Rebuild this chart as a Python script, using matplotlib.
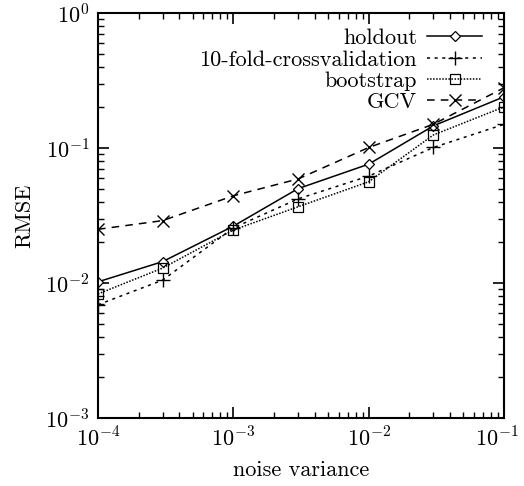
import numpy as np
import matplotlib
matplotlib.use("Agg")
import matplotlib.pyplot as plt
import matplotlib.transforms as mtransforms

plt.rcParams['font.family'] = 'serif'
plt.rcParams['font.serif'] = ['cmr10', 'DejaVu Serif']
plt.rcParams['mathtext.fontset'] = 'cm'
plt.rcParams['axes.formatter.use_mathtext'] = True
plt.rcParams['axes.unicode_minus'] = False

# noise variance levels
noise = [1e-4, 3e-4, 1e-3, 3e-3, 1e-2, 3e-2, 1e-1]

# RMSE per method
holdout = [0.0102, 0.0144, 0.0264, 0.050, 0.076, 0.146, 0.24]
crossval = [0.0069, 0.0105, 0.0256, 0.042, 0.062, 0.101, 0.15]
bootstrap = [0.0083, 0.0129, 0.0247, 0.0367, 0.0563, 0.125, 0.202]
gcv = [0.025, 0.029, 0.0443, 0.059, 0.101, 0.150, 0.28]

xticks = [1e-4, 1e-3, 1e-2, 1e-1]
xtick_labels = [r'$10^{-4}$', r'$10^{-3}$', r'$10^{-2}$', r'$10^{-1}$']

fig = plt.figure(figsize=(5.24, 4.86), dpi=100)
ax = fig.add_axes([0.187, 0.140, 0.775, 0.833])

ax.plot(noise, holdout, color='black', linestyle='-', linewidth=1.1,
        marker='D', markersize=5.5, markerfacecolor='white', markeredgewidth=0.9,
        label='holdout')
ax.plot(noise, crossval, color='black', linestyle=(0, (2, 3)), linewidth=1.1,
        marker='+', markersize=10, markeredgewidth=1.0,
        label='10-fold-crossvalidation')
ax.plot(noise, bootstrap, color='black', linestyle=(0, (1, 1)), linewidth=1.1,
        marker='s', markersize=6.5, markerfacecolor='none', markeredgewidth=0.9,
        label='bootstrap')
ax.plot(noise, gcv, color='black', linestyle=(0, (5, 4)), linewidth=1.1,
        marker='x', markersize=8, markeredgewidth=1.0,
        label='GCV')

ax.set_xscale('log')
ax.set_yscale('log')
ax.set_xlim(1e-4, 1e-1)
ax.set_ylim(1e-3, 1e0)
ax.set_xticks(xticks, xtick_labels)

ax.set_xlabel('noise variance', fontsize=16, labelpad=7)
ax.set_ylabel('RMSE', fontsize=16, labelpad=8)

ax.tick_params(which='both', direction='in', top=True, right=True, labelsize=16)
ax.tick_params(which='major', length=8, width=1.2, pad=6)
ax.tick_params(which='minor', length=4, width=1.0)
for s in ax.spines.values():
    s.set_linewidth(1.5)

# keep the last x tick label inside the figure
last = ax.get_xticklabels()[-1]
last.set_transform(last.get_transform() +
                   mtransforms.ScaledTranslation(-7 / 100, 0, fig.dpi_scale_trans))

ax.legend(loc='upper right', bbox_to_anchor=(0.985, 1.0), frameon=False,
          markerfirst=False, fontsize=16, handlelength=2.5, labelspacing=0.08,
          borderaxespad=0.4, borderpad=0.3, handletextpad=0.45)

fig.savefig('out.png', dpi=100)
